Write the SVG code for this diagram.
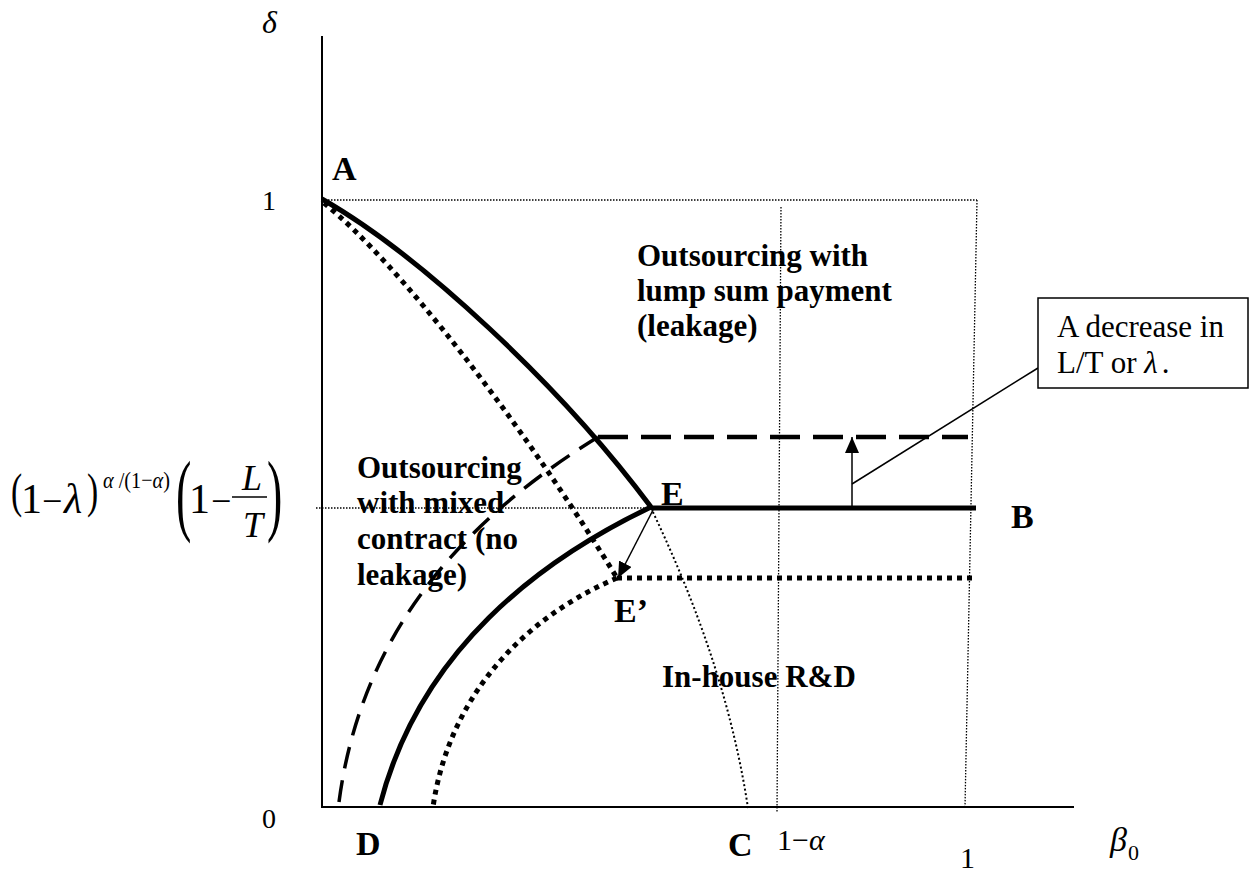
<svg xmlns="http://www.w3.org/2000/svg" width="1249" height="872" viewBox="0 0 1249 872">
<defs>
<style>
text{font-family:"Liberation Serif","Times New Roman",serif;fill:#000}
.i{font-style:italic}
.lbl{font-size:34px;font-weight:bold}
.reg{font-size:31px;font-weight:bold}
.axis{stroke:#000;stroke-width:2;fill:none}
.tdot{stroke:#000;stroke-width:1.3;stroke-dasharray:1.5 1.5;fill:none}
.cdot{stroke:#000;stroke-width:2;stroke-dasharray:2 2.5;fill:none}
.thick{stroke:#000;stroke-width:5;fill:none}
.dashh{stroke:#000;stroke-width:4.5;stroke-dasharray:30 13;fill:none}
.dashc{stroke:#000;stroke-width:3.5;stroke-dasharray:22 12;fill:none}
.dots{stroke:#000;stroke-width:5;stroke-dasharray:5 5;fill:none}
.thin{stroke:#000;stroke-width:1.5;fill:none}
</style>
<marker id="ah" viewBox="0 0 16 14" refX="16" refY="7" markerWidth="16" markerHeight="14" markerUnits="userSpaceOnUse" orient="auto">
<path d="M0,0 L16,7 L0,14 Z" fill="#000"/>
</marker>
</defs>
<g id="axes">
<line class="axis" x1="322" y1="36" x2="322" y2="808"/>
<line class="axis" x1="321" y1="807" x2="1074" y2="807"/>
</g>
<g id="guides">
<line class="tdot" x1="322" y1="200" x2="977" y2="200"/>
<line class="tdot" x1="977" y1="200" x2="965" y2="807"/>
<line class="tdot" x1="781" y1="207" x2="777" y2="812"/>
<line class="tdot" x1="316" y1="508" x2="651" y2="508"/>
</g>
<g id="connectors">
<path class="thick" d="M322,199 C420,255 560,385 651,507"/>
<path class="thick" d="M651,507 C540,560 420,650 380,805"/>
<line class="thick" x1="651" y1="508" x2="976" y2="508"/>
<path class="dots" d="M324,203 C400,265 520,420 617,578"/>
<path class="dots" d="M617,578 C530,615 450,690 433,807"/>
<line class="dots" x1="617" y1="578" x2="976" y2="578"/>
<path class="dashc" d="M598,437 C480,510 360,620 338,810"/>
<line class="dashh" x1="598" y1="437" x2="968" y2="437"/>
<path class="cdot" d="M651,508 C690,590 730,690 748,808"/>
<line class="thin" x1="653" y1="510" x2="618" y2="578" marker-end="url(#ah)"/>
<line class="thin" x1="852" y1="507" x2="852" y2="437" marker-end="url(#ah)"/>
<line class="thin" x1="852" y1="484" x2="1038" y2="368"/>
</g>
<g id="callout">
<rect x="1038" y="298" width="210" height="90" fill="#fff" stroke="#000" stroke-width="1.5"/>
<text x="1057" y="337" font-size="31">A decrease in</text>
<text x="1057" y="373" font-size="31">L/T or <tspan class="i">λ</tspan><tspan dx="4">.</tspan></text>
</g>
<g id="axis-labels">
<text x="262" y="33" font-size="32" class="i">δ</text>
<text x="262" y="210" font-size="28">1</text>
<text x="262" y="828" font-size="28">0</text>
<text x="777" y="850" font-size="30">1−<tspan class="i">α</tspan></text>
<text x="960" y="868" font-size="30">1</text>
<text x="1110" y="851" font-size="34" class="i">β</text>
<text x="1128" y="860" font-size="22">0</text>
</g>
<g id="formula">
<text transform="translate(11,507) scale(0.7,1)" font-size="48">(</text>
<text x="21" y="513" font-size="42">1</text>
<text x="42" y="513" font-size="36">−</text>
<text x="64" y="513" font-size="42" class="i">λ</text>
<text transform="translate(87,507) scale(0.7,1)" font-size="48">)</text>
<text x="103" y="488" font-size="24" textLength="67" lengthAdjust="spacingAndGlyphs"><tspan class="i">α</tspan> /(1−<tspan class="i">α</tspan>)</text>
<text transform="translate(176,524) scale(0.5,1)" font-size="92">(</text>
<text x="189" y="513" font-size="42">1</text>
<text x="211" y="513" font-size="36">−</text>
<text x="242" y="490" font-size="36" class="i">L</text>
<line x1="232" y1="497" x2="267" y2="497" stroke="#000" stroke-width="1.5"/>
<text x="243" y="537" font-size="36" class="i">T</text>
<text transform="translate(267,524) scale(0.5,1)" font-size="92">)</text>
</g>
<g id="node-A"><text class="lbl" x="332" y="180">A</text></g>
<g id="node-B"><text class="lbl" x="1011" y="528">B</text></g>
<g id="node-C"><text class="lbl" x="728" y="856">C</text></g>
<g id="node-D"><text class="lbl" x="356" y="855">D</text></g>
<g id="node-E"><text class="lbl" x="661" y="505">E</text></g>
<g id="node-E2"><text class="lbl" x="614" y="622">E’</text></g>
<g id="region-lump">
<text class="reg" x="637" y="266">Outsourcing with</text>
<text class="reg" x="637" y="301">lump sum payment</text>
<text class="reg" x="637" y="336">(leakage)</text>
</g>
<g id="region-mixed">
<text class="reg" x="357" y="478">Outsourcing</text>
<text class="reg" x="357" y="513">with mixed</text>
<text class="reg" x="357" y="549">contract (no</text>
<text class="reg" x="357" y="585">leakage)</text>
</g>
<g id="region-inhouse">
<text class="reg" x="662" y="687">In-house R&amp;D</text>
</g>
</svg>
